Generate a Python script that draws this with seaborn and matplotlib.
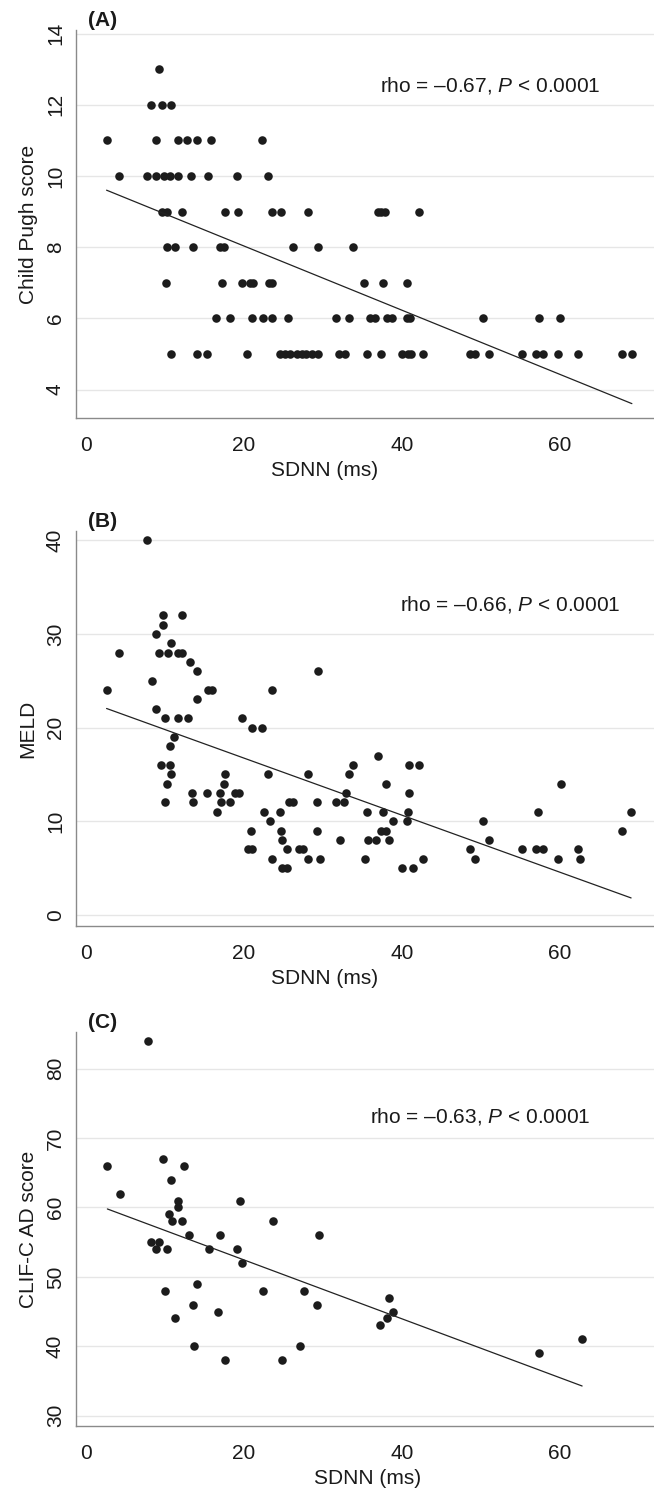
import matplotlib
matplotlib.use("Agg")
import matplotlib.pyplot as plt
import seaborn as sns
import numpy as np

# ---------------- data ----------------
sdnn_a = [9.2,
          8.2, 9.6, 10.7,
          2.6, 8.8, 11.6, 12.8, 14.0, 15.8, 22.3,
          4.2, 7.7, 8.9, 9.9, 10.6, 11.6, 13.3, 15.5, 19.1, 23.0,
          9.6, 10.2, 12.2, 17.6, 19.3, 23.5, 24.7, 28.1, 36.9, 37.3, 37.8, 42.2,
          10.3, 11.2, 13.5, 17.0, 17.5, 26.2, 29.4, 33.8,
          10.1, 17.2, 19.7, 20.8, 21.1, 23.2, 23.5, 35.2, 37.6, 40.6,
          16.5, 18.2, 21.0, 22.4, 23.5, 25.6, 31.7, 33.3, 36.0, 36.6, 38.1, 38.7,
          40.6, 41.0, 50.3, 57.3, 60.0,
          10.7, 14.0, 15.3, 20.4, 24.6, 25.2, 25.8, 26.7, 27.3, 27.9, 28.6, 29.4,
          32.0, 32.8, 35.6, 37.3, 40.0, 40.8, 41.2, 42.7, 48.6, 49.2, 51.0, 55.2,
          57.0, 57.8, 59.8, 62.3, 67.8, 69.1]
child_pugh = [13,
              12, 12, 12,
              11, 11, 11, 11, 11, 11, 11,
              10, 10, 10, 10, 10, 10, 10, 10, 10, 10,
              9, 9, 9, 9, 9, 9, 9, 9, 9, 9, 9, 9,
              8, 8, 8, 8, 8, 8, 8, 8,
              7, 7, 7, 7, 7, 7, 7, 7, 7, 7,
              6, 6, 6, 6, 6, 6, 6, 6, 6, 6, 6, 6,
              6, 6, 6, 6, 6,
              5, 5, 5, 5, 5, 5, 5, 5, 5, 5, 5, 5,
              5, 5, 5, 5, 5, 5, 5, 5, 5, 5, 5, 5,
              5, 5, 5, 5, 5, 5]

sdnn_b = [7.7,
          9.8, 12.1,
          9.7,
          8.8,
          10.7,
          4.2, 9.2, 10.4, 11.6, 12.2,
          13.2,
          14.0, 29.4,
          8.3,
          2.6, 15.5, 15.9, 23.5,
          14.1,
          8.9,
          10.0, 11.6, 12.9, 19.7,
          21.0, 22.3,
          11.1,
          10.6,
          37.0,
          9.5, 10.6, 33.8, 40.9, 42.2,
          10.8, 17.6, 23.0, 28.1, 33.3,
          10.2, 17.5, 38.0, 60.1,
          13.4, 15.3, 17.0, 18.9, 19.4, 32.9, 40.9,
          10.0, 13.5, 17.1, 18.2, 25.7, 26.2, 29.2, 31.7, 32.6,
          16.6, 22.5, 24.6, 35.6, 37.6, 40.8, 57.2, 69.0,
          23.3, 38.8, 40.6, 50.3,
          20.9, 24.7, 29.2, 37.3, 38.0, 67.9,
          24.8, 32.1, 35.7, 36.7, 38.3, 51.0,
          20.5, 21.0, 25.4, 26.9, 27.5, 48.6, 55.2, 57.0, 57.8, 62.3,
          23.5, 28.1, 29.6, 35.3, 42.7, 49.2, 59.8, 62.5,
          24.8, 25.5, 40.0, 41.4]
meld = [40,
        32, 32,
        31,
        30,
        29,
        28, 28, 28, 28, 28,
        27,
        26, 26,
        25,
        24, 24, 24, 24,
        23,
        22,
        21, 21, 21, 21,
        20, 20,
        19,
        18,
        17,
        16, 16, 16, 16, 16,
        15, 15, 15, 15, 15,
        14, 14, 14, 14,
        13, 13, 13, 13, 13, 13, 13,
        12, 12, 12, 12, 12, 12, 12, 12, 12,
        11, 11, 11, 11, 11, 11, 11, 11,
        10, 10, 10, 10,
        9, 9, 9, 9, 9, 9,
        8, 8, 8, 8, 8, 8,
        7, 7, 7, 7, 7, 7, 7, 7, 7, 7,
        6, 6, 6, 6, 6, 6, 6, 6,
        5, 5, 5, 5]

sdnn_c = [7.8, 2.7, 9.8, 12.4, 10.8, 4.3, 11.7, 19.5, 11.7, 10.5, 10.9, 12.2,
          23.7, 13.0, 17.0, 29.5, 8.2, 9.3, 8.8, 10.3, 15.6, 19.1, 19.7, 10.0,
          22.4, 27.6, 14.0, 13.5, 29.2, 16.7, 11.3, 13.7, 17.6, 24.8, 27.1,
          37.2, 38.1, 38.9, 38.3, 57.4, 62.8]
clif_c = [84, 66, 67, 66, 64, 62, 61, 61, 60, 59, 58, 58,
          58, 56, 56, 56, 55, 55, 54, 54, 54, 54, 52, 48,
          48, 48, 49, 46, 46, 45, 44, 40, 38, 38, 40,
          43, 44, 45, 47, 39, 41]

x_ticks = [0, 20, 40, 60]
panel_labels = ["(A)", "(B)", "(C)"]
y_labels = ["Child Pugh score", "MELD", "CLIF-C AD score"]
y_ticks = [[4, 6, 8, 10, 12, 14], [0, 10, 20, 30, 40], [30, 40, 50, 60, 70, 80]]
y_lims = [(3.2, 14.1), (-1.2, 41.0), (28.5, 85.3)]
stats_text = ["rho = \u20130.67, ", "rho = \u20130.66, ", "rho = \u20130.63, "]
stats_pos = [(37.2, 12.53), (39.7, 33.1), (35.9, 73.1)]

# ---------------- style ----------------
sns.set_theme(style="white")
plt.rcParams["font.family"] = ["Liberation Sans", "DejaVu Sans"]
plt.rcParams["mathtext.fontset"] = "custom"
plt.rcParams["mathtext.rm"] = "Liberation Sans"
plt.rcParams["mathtext.it"] = "Liberation Sans:italic"

FS = 15
dot = "#1c1c1c"
spine_c = "#8a8a8a"

fig = plt.figure(figsize=(6.54, 14.88), dpi=100)
W, H = 654.0, 1488.0
left_px, right_px = 76, 654
boxes = [(30, 418), (531, 926), (1032, 1426)]
xlabel_pos = [0.43, 0.43, 0.505]

datasets = [(sdnn_a, child_pugh), (sdnn_b, meld), (sdnn_c, clif_c)]

for i, ((top, bot), (xs, ys)) in enumerate(zip(boxes, datasets)):
    ax = fig.add_axes([left_px / W, 1 - bot / H, (right_px - left_px) / W, (bot - top) / H])
    sns.regplot(x=xs, y=ys, ax=ax, ci=None, truncate=True,
                scatter_kws=dict(s=38, color=dot, linewidths=0, alpha=1),
                line_kws=dict(color="#222222", lw=0.9))
    ax.set_xlim(-1.27, 71.9)
    ax.set_ylim(*y_lims[i])
    ax.set_xticks(x_ticks)
    ax.set_yticks(y_ticks[i])
    ax.set_xticklabels([str(t) for t in x_ticks], fontsize=FS)
    ax.set_yticklabels([str(t) for t in y_ticks[i]], fontsize=FS,
                       rotation=90, va="center")
    ax.yaxis.grid(True, color="#e6e6e6", lw=1.0)
    ax.xaxis.grid(False)
    ax.set_axisbelow(True)
    for s in ["top", "right"]:
        ax.spines[s].set_visible(False)
    for s in ["left", "bottom"]:
        ax.spines[s].set_color(spine_c)
        ax.spines[s].set_linewidth(1.0)
    ax.tick_params(axis="both", direction="out", length=5, width=1.0,
                   color=spine_c, labelcolor="#1a1a1a", pad=3)
    ax.tick_params(axis="x", pad=8)
    ax.set_xlabel("SDNN (ms)", fontsize=FS, color="#1a1a1a")
    ax.xaxis.label.set_verticalalignment("center")
    ax.xaxis.set_label_coords(xlabel_pos[i], -52.0 / (bot - top))
    ax.set_ylabel(y_labels[i], fontsize=FS, color="#1a1a1a", labelpad=6)
    ax.text(0.02, 1.0, panel_labels[i], transform=ax.transAxes, fontsize=FS,
            fontweight="bold", ha="left", va="bottom", color="#1a1a1a")
    tx, ty = stats_pos[i]
    ax.text(tx, ty, stats_text[i] + r"$\mathit{P}$ < 0.0001", fontsize=FS,
            ha="left", va="center", color="#1a1a1a")

fig.savefig("out.png", dpi=100)
